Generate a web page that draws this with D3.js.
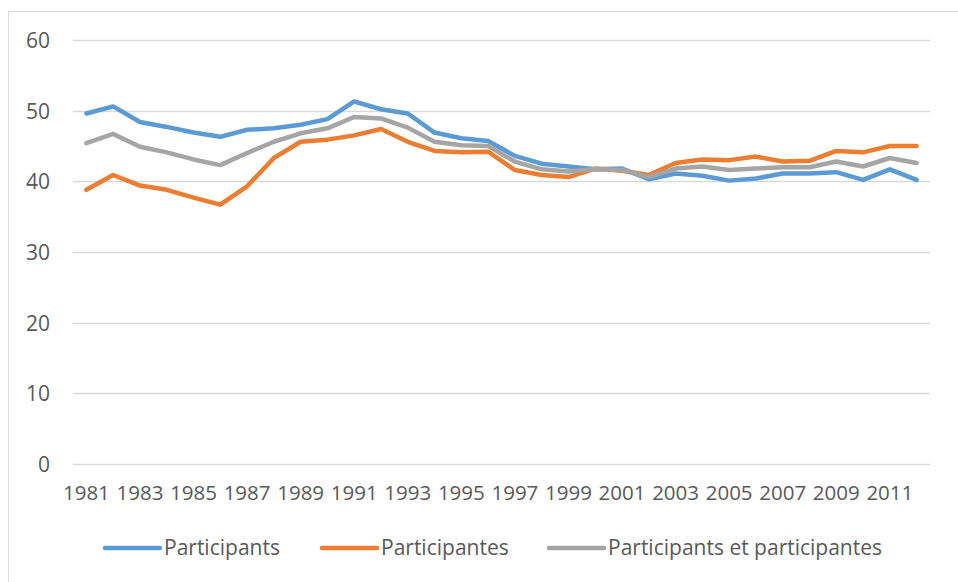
<!DOCTYPE html>
<html>
<head>
<meta charset="utf-8">
<script src="https://cdn.jsdelivr.net/npm/d3@7"></script>
<style>
  html, body { margin: 0; padding: 0; background: #fff; }
  svg { display: block; }
  text { font-family: "Open Sans", "Noto Sans", sans-serif; fill: #595959; }
</style>
</head>
<body>
<svg id="chart" width="958" height="582"></svg>
<script>
const years = d3.range(1981, 2013).map(String);
const tickYears = years.filter((d, i) => i % 2 === 0);
const yTicks = [0, 10, 20, 30, 40, 50, 60];

const participants = [49.6, 50.6, 48.4, 47.7, 46.9, 46.3, 47.3, 47.5, 48.0, 48.8, 51.3, 50.2, 49.6, 46.9, 46.1, 45.7,
  43.6, 42.5, 42.1, 41.7, 41.8, 40.3, 41.1, 40.8, 40.1, 40.4, 41.1, 41.1, 41.3, 40.2, 41.7, 40.2];
const participantes = [38.8, 40.9, 39.4, 38.8, 37.7, 36.7, 39.3, 43.3, 45.6, 45.9, 46.5, 47.4, 45.6, 44.3, 44.1, 44.2,
  41.6, 40.9, 40.6, 41.8, 41.5, 40.9, 42.6, 43.1, 43.0, 43.5, 42.8, 42.9, 44.3, 44.1, 45.0, 45.0];
const ensemble = [45.4, 46.7, 44.9, 44.1, 43.1, 42.3, 44.0, 45.6, 46.8, 47.5, 49.1, 48.9, 47.6, 45.6, 45.1, 45.0,
  42.8, 41.7, 41.4, 41.7, 41.6, 40.6, 41.8, 42.1, 41.6, 41.8, 42.0, 42.0, 42.8, 42.1, 43.3, 42.6];

const seriesNames = ["Participants", "Participantes", "Participants et participantes"];
const seriesColors = ["#5B9BD5", "#ED7D31", "#A5A5A5"];
const seriesValues = [participants, participantes, ensemble];

const svg = d3.select("#chart");

// chart frame (left and top border)
svg.append("path")
  .attr("d", "M8.5,582 L8.5,11.5 L958,11.5")
  .attr("fill", "none")
  .attr("stroke", "#d9d9d9")
  .attr("stroke-width", 1);

const x = d3.scaleBand().domain(years).range([73, 930]);
const y = d3.scaleLinear().domain([0, 60]).range([464, 40]);

// gridlines
const grid = svg.append("g");
grid.selectAll("line").data(yTicks).enter().append("line")
  .attr("x1", 73).attr("x2", 930)
  .attr("y1", d => Math.round(y(d)) + 0.5).attr("y2", d => Math.round(y(d)) + 0.5)
  .attr("stroke", "#d9d9d9").attr("stroke-width", 1.3);

// y axis labels
const yAxis = d3.axisLeft(y).tickValues(yTicks).tickSize(0).tickPadding(0);
const gy = svg.append("g").attr("transform", "translate(50,0)").call(yAxis);
gy.select(".domain").remove();
gy.selectAll("text").attr("font-size", "21px").attr("font-family", "Open Sans").attr("fill", "#595959").attr("dy", "0.35em");

// x axis labels
const xAxis = d3.axisBottom(x).tickValues(tickYears).tickSize(0).tickPadding(0);
const gx = svg.append("g").attr("transform", "translate(0,482)").call(xAxis);
gx.select(".domain").remove();
gx.selectAll("text").attr("font-size", "20.5px").attr("font-family", "Open Sans").attr("fill", "#595959").attr("dy", "0.9em");

// lines
const line = d3.line()
  .x((d, i) => x(years[i]) + x.bandwidth() / 2)
  .y(d => y(d));

svg.append("g").selectAll("path").data(seriesValues).enter().append("path")
  .attr("d", d => line(d))
  .attr("fill", "none")
  .attr("stroke", (d, i) => seriesColors[i])
  .attr("stroke-width", 4.5)
  .attr("stroke-linejoin", "round")
  .attr("stroke-linecap", "round");

// legend
const legendX = [105, 322, 549];
const legend = svg.append("g");
seriesNames.forEach((name, i) => {
  const g = legend.append("g").attr("transform", `translate(${legendX[i]},548)`);
  g.append("line").attr("x1", 0).attr("x2", 55).attr("y1", 0).attr("y2", 0)
    .attr("stroke", seriesColors[i]).attr("stroke-width", 4.5).attr("stroke-linecap", "round");
  g.append("text").attr("x", 59).attr("y", 0).attr("dy", "0.35em")
    .attr("font-size", "21px").text(name);
});
</script>
</body>
</html>
